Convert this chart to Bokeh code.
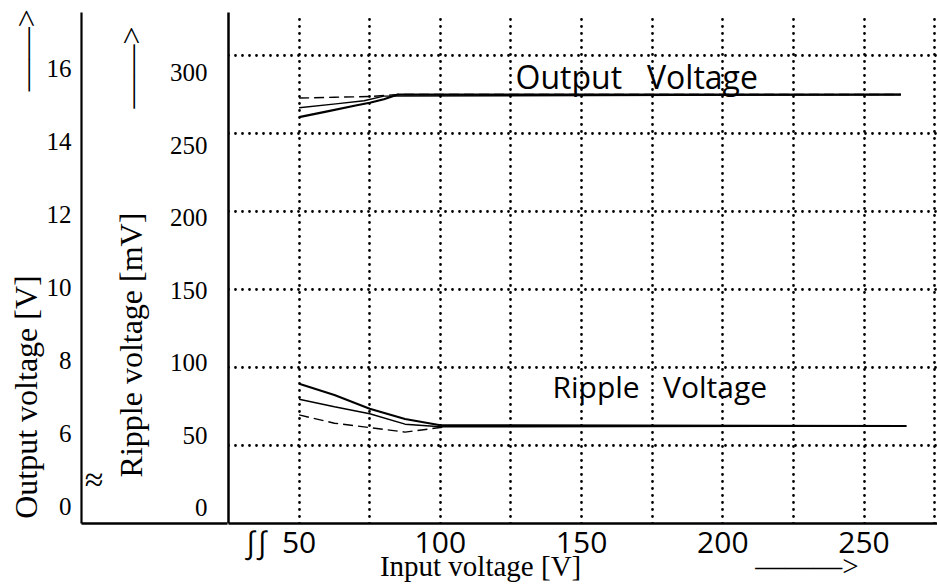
from bokeh.plotting import figure
from bokeh.models import Range1d, LinearAxis, FixedTicker, Label
from bokeh.embed import file_html
from bokeh.resources import INLINE

# ---------------- data ----------------
x_ticks = [50, 100, 150, 200, 250]
x_grid = [50, 75, 100, 125, 150, 175, 200, 225, 250, 275]
ripple_ticks = [0, 50, 100, 150, 200, 250, 300]
ripple_grid = [50, 100, 150, 200, 250, 300]
vout_ticks = [4, 6, 8, 10, 12, 14, 16]
vout_tick_labels = {4: "0"}

# output voltage [V] vs input voltage [V], three conditions
vin_out_a = [50, 60, 70, 75, 80, 85, 263]
vout_a = [14.42, 14.57, 14.72, 14.79, 14.88, 15.0, 15.0]
vin_out_b = [50, 63, 73, 80, 263]
vout_b = [14.66, 14.76, 14.84, 14.96, 15.0]
vin_out_c = [50, 62.5, 75, 85, 263]
vout_c = [14.91, 14.93, 14.95, 15.0, 15.0]

# ripple voltage [mV] vs input voltage [V], three conditions
vin_rip_a = [50, 62.5, 75, 87.5, 100, 265]
ripple_a = [89.6, 82.4, 73.6, 67.0, 63.0, 62.5]
vin_rip_b = [50, 62.5, 75, 87.5, 100, 265]
ripple_b = [79.7, 74.9, 70.3, 63.7, 62.0, 62.5]
vin_rip_c = [50, 62.5, 75, 87.5, 102]
ripple_c = [69.6, 64.3, 61.5, 58.6, 62.0]

# ---------------- layout ----------------
FR_L, FR_R, FR_T, FR_B = 228, 937, 12, 523
OUT_AXIS_X = 82
X0, X1 = 25, 276
Y0, Y1 = 0, 327.6
V0, V1 = 4, 6 + (Y1 - 50) / 25.0
# the printed tick labels sit on their own (slightly tighter) scales
RL0, RL1 = -11.0, -11.0 + (FR_B - FR_T) / 1.45
VL0, VL1 = 6 - (FR_B - 433) / 36.5, 6 + (433 - FR_T) / 36.5

NB = "\u00a0"


def px_x(px):
    return X0 + (px - FR_L) * (X1 - X0) / (FR_R - FR_L)


def px_y(py):
    return Y0 + (FR_B - py) * (Y1 - Y0) / (FR_B - FR_T)


def px_vl(py):
    return VL0 + (FR_B - py) * (VL1 - VL0) / (FR_B - FR_T)


p = figure(width=937, height=584, output_backend="svg", toolbar_location=None,
           x_range=Range1d(X0, X1), y_range=Range1d(Y0, Y1),
           min_border_left=FR_L, min_border_right=937 - FR_R,
           min_border_top=FR_T, min_border_bottom=584 - FR_B)
p.extra_y_ranges = {"vout": Range1d(V0, V1),
                    "rip_lbl": Range1d(RL0, RL1),
                    "vout_lbl": Range1d(VL0, VL1)}
p.outline_line_color = None
p.background_fill_color = "white"
p.border_fill_color = "white"

SERIF = "Liberation Serif"
SANS = "Open Sans"

# x axis
brk_x = round(px_x(256), 1)
xa = p.below[0]
xa.ticker = FixedTicker(ticks=[brk_x] + x_ticks)
xa.major_label_overrides = {brk_x: "\u222b\u222b"}
xa.axis_line_width = 2.5
xa.axis_line_color = "black"
xa.major_tick_line_color = None
xa.minor_tick_line_color = None
xa.major_tick_out = 0
xa.major_tick_in = 0
xa.major_label_standoff = -3
xa.major_label_text_font = SANS
xa.major_label_text_font_size = "30px"
xa.major_label_text_color = "black"
xa.axis_label = NB * 10 + "Input voltage [V]" + NB * 24 + "\u2014\u2014\u2014>"
xa.axis_label_text_font = SERIF
xa.axis_label_text_font_size = "29px"
xa.axis_label_text_font_style = "normal"
xa.axis_label_text_color = "black"
xa.axis_label_standoff = -15

# ripple axis (on the default left side, next to the frame)
ya = p.left[0]
ya.y_range_name = "rip_lbl"
ya.ticker = FixedTicker(ticks=ripple_ticks)
ya.axis_line_width = 2.5
ya.axis_line_color = "black"
ya.major_tick_line_color = None
ya.minor_tick_line_color = None
ya.major_tick_out = 0
ya.major_tick_in = 0
ya.minor_tick_out = 0
ya.minor_tick_in = 0
ya.major_label_standoff = 21
ya.major_label_text_font = SERIF
ya.major_label_text_font_size = "25px"
ya.major_label_text_color = "black"
ya.axis_label = NB * 4 + "Ripple voltage [mV]" + NB * 13 + "\u2014\u2014>"
ya.axis_label_text_font = SERIF
ya.axis_label_text_font_size = "32px"
ya.axis_label_text_font_style = "normal"
ya.axis_label_text_color = "black"
ya.axis_label_standoff = 18

# spacer carrying the axis-break mark of the output-voltage axis
brk_v = round(px_vl(479), 2)
sp = LinearAxis(y_range_name="vout_lbl", ticker=FixedTicker(ticks=[brk_v]),
                major_label_overrides={brk_v: "\u2248"},
                axis_line_color=None, major_tick_line_color=None,
                minor_tick_line_color=None, major_tick_out=0, major_tick_in=0,
                minor_tick_out=0, minor_tick_in=0,
                major_label_standoff=6, major_label_text_font=SERIF,
                major_label_text_font_size="34px", major_label_text_color="black")
p.add_layout(sp, "left")

# output voltage axis; its inward minor tick continues the base line to the frame
oa = LinearAxis(y_range_name="vout_lbl",
                ticker=FixedTicker(ticks=vout_ticks, minor_ticks=[VL0 + 0.01]),
                major_label_overrides=vout_tick_labels)
oa.axis_line_width = 2.2
oa.axis_line_color = "black"
oa.major_tick_line_color = None
oa.major_tick_out = 0
oa.major_tick_in = 0
oa.minor_tick_line_color = "black"
oa.minor_tick_line_width = 2.5
oa.minor_tick_out = 0
oa.minor_tick_in = FR_L - OUT_AXIS_X
oa.major_label_standoff = 10
oa.major_label_text_font = SERIF
oa.major_label_text_font_size = "25px"
oa.major_label_text_color = "black"
oa.axis_label = NB * 1 + "Output voltage [V]" + NB * 23 + "\u2014\u2014>"
oa.axis_label_text_font = SERIF
oa.axis_label_text_font_size = "32px"
oa.axis_label_text_font_style = "normal"
oa.axis_label_text_color = "black"
oa.axis_label_standoff = 0
p.add_layout(oa, "left")

# dotted grid
for g, t in ((p.xgrid[0], x_grid), (p.ygrid[0], ripple_grid)):
    g.ticker = FixedTicker(ticks=t)
    g.grid_line_color = "black"
    g.grid_line_alpha = 1.0
    g.grid_line_width = 2.8
    g.grid_line_dash = "0 7"
    g.grid_line_cap = "round"

# curves
p.line(vin_out_a, vout_a, y_range_name="vout", line_color="black", line_width=2.2)
p.line(vin_out_b, vout_b, y_range_name="vout", line_color="black", line_width=1.4)
p.line(vin_out_c, vout_c, y_range_name="vout", line_color="black", line_width=1.4,
       line_dash="10 5")
p.line(vin_rip_a, ripple_a, line_color="black", line_width=2.0)
p.line(vin_rip_b, ripple_b, line_color="black", line_width=1.5)
p.line(vin_rip_c, ripple_c, line_color="black", line_width=1.4, line_dash="10 5")

# curve names
p.add_layout(Label(x=px_x(515), y=px_y(76), text="Output" + NB + NB + " Voltage",
                   text_font=SANS, text_font_size="32px", text_baseline="middle",
                   text_color="black"))
p.add_layout(Label(x=px_x(552), y=px_y(386), text="Ripple" + NB + NB + " Voltage",
                   text_font=SANS, text_font_size="30px", text_baseline="middle",
                   text_color="black"))

open("out.html", "w").write(file_html(p, INLINE))
